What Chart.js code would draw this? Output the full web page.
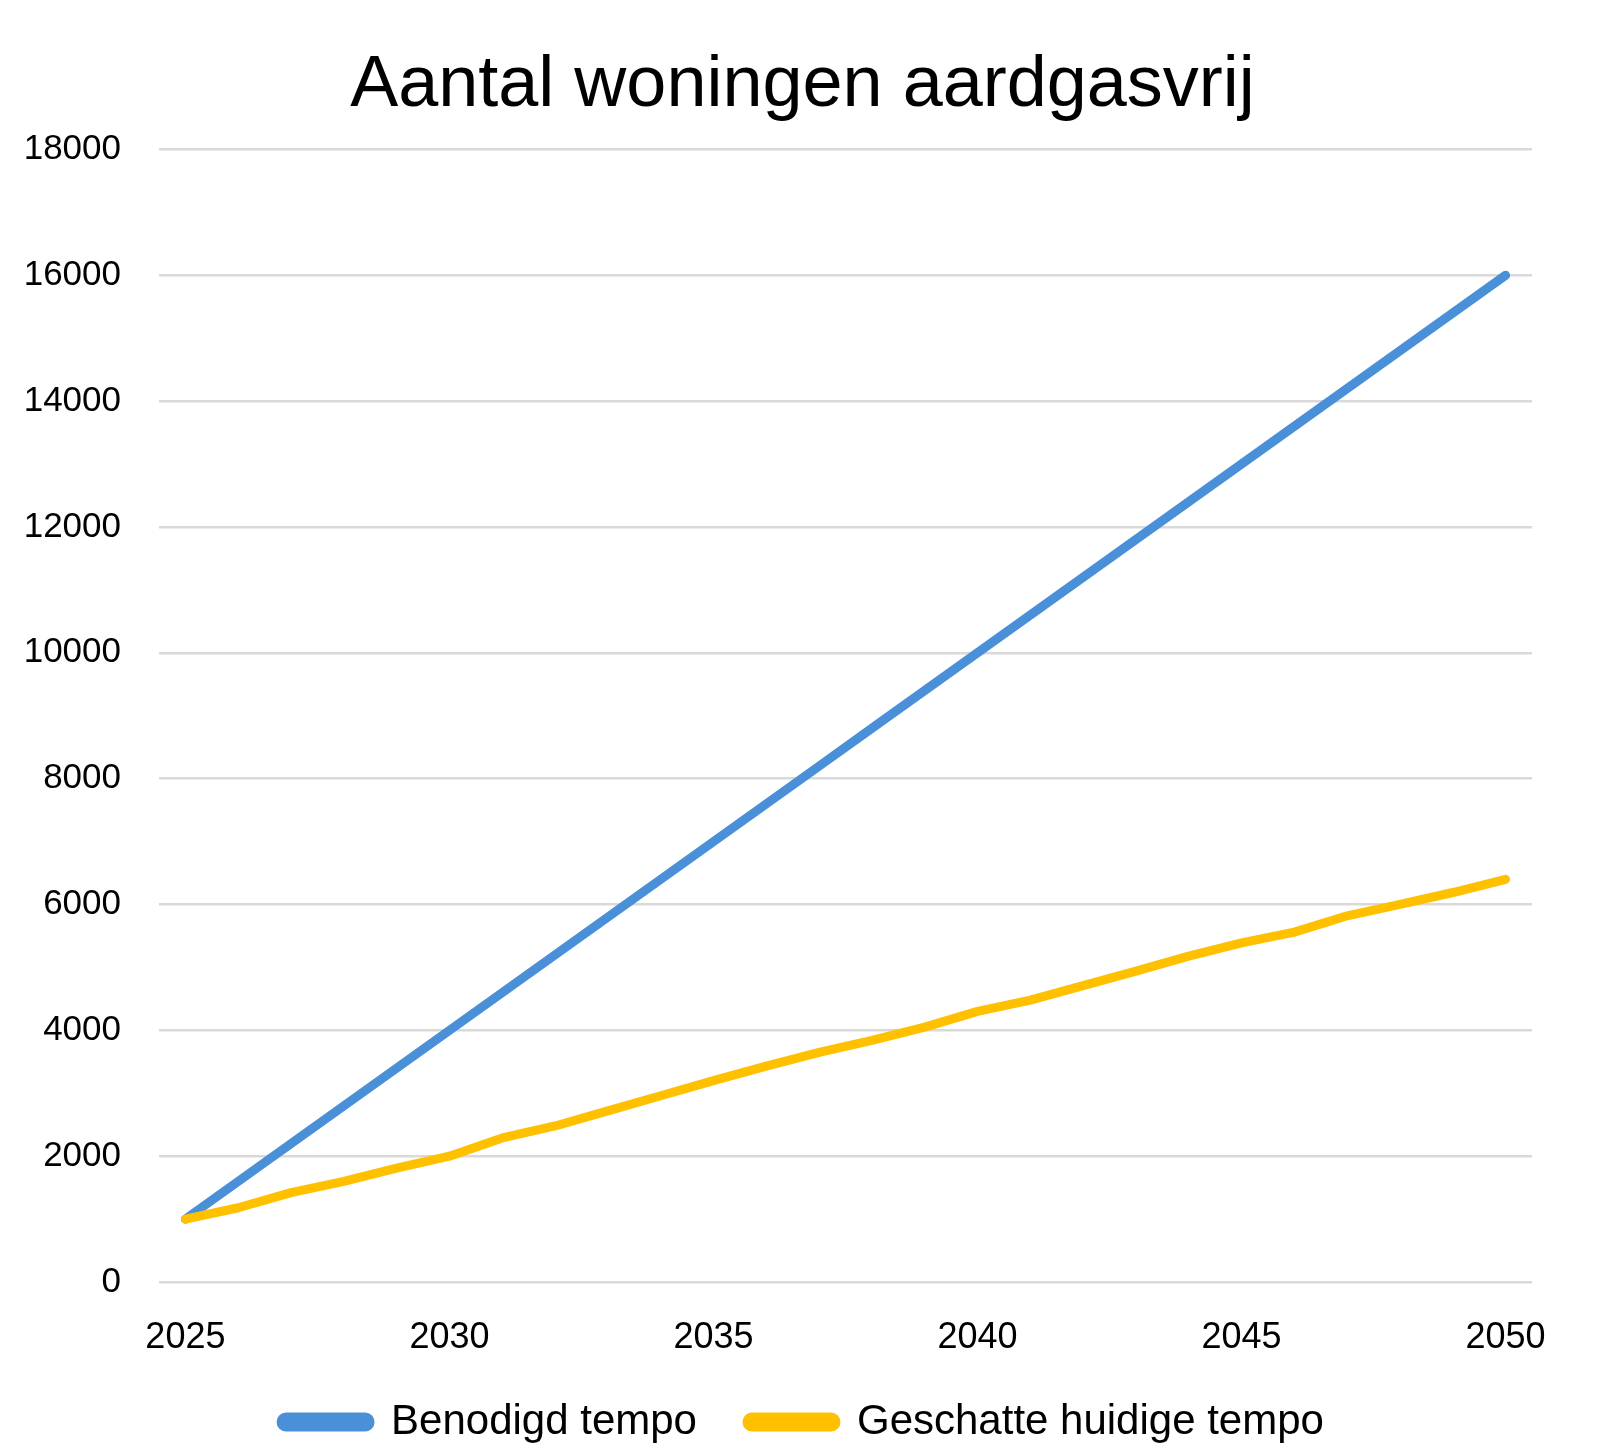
<!DOCTYPE html>
<html lang="nl">
<head>
<meta charset="utf-8">
<title>Aantal woningen aardgasvrij</title>
<script src="https://cdn.jsdelivr.net/npm/chart.js@4.4.1/dist/chart.umd.min.js"></script>
<style>
  html, body { margin: 0; padding: 0; background: #ffffff; }
  #wrap { width: 1605px; height: 1445px; }
</style>
</head>
<body>
<div id="wrap"><canvas id="chart" width="1605" height="1445"></canvas></div>
<script>
/* ---------------- Data ---------------- */

const years = [
  "2025", "2026", "2027", "2028", "2029", "2030", "2031", "2032", "2033",
  "2034", "2035", "2036", "2037", "2038", "2039", "2040", "2041", "2042",
  "2043", "2044", "2045", "2046", "2047", "2048", "2049", "2050"
];

const benodigdTempo = [
  1000, 1600, 2200, 2800, 3400, 4000, 4600, 5200, 5800, 6400, 7000, 7600, 8200,
  8800, 9400, 10000, 10600, 11200, 11800, 12400, 13000, 13600, 14200, 14800, 15400, 16000
];

const huidigTempo = [
  1000, 1180, 1420, 1600, 1810, 2000, 2290, 2480, 2720, 2960, 3200, 3430, 3650,
  3840, 4050, 4300, 4480, 4710, 4940, 5180, 5390, 5560, 5820, 6000, 6190, 6400
];

const yTicks = [0, 2000, 4000, 6000, 8000, 10000, 12000, 14000, 16000, 18000];
const xLabelEvery = 5;

const seriesNames = ["Benodigd tempo", "Geschatte huidige tempo"];
const colors = { blue: "#4A90D9", gold: "#FFC000", grid: "#D9D9D9", text: "#000000" };

/* ---------------- Chart ---------------- */

Chart.defaults.font.family = "'Liberation Sans', Arial, sans-serif";
Chart.defaults.color = colors.text;

function lineSet(label, data, color, order) {
  return {
    label: label,
    data: data,
    borderColor: color,
    backgroundColor: color,
    borderWidth: 9,
    borderCapStyle: "round",
    borderJoinStyle: "round",
    pointRadius: 0,
    pointHoverRadius: 0,
    tension: 0,
    fill: false,
    order: order
  };
}

const ctx = document.getElementById("chart").getContext("2d");

new Chart(ctx, {
  type: "line",
  data: {
    labels: years,
    datasets: [
      lineSet(seriesNames[0], benodigdTempo, colors.blue, 1),
      // gold line sits on top of the blue one where they meet
      lineSet(seriesNames[1], huidigTempo, colors.gold, 0)
    ]
  },
  options: {
    responsive: false,
    animation: false,
    layout: { padding: { left: 0, right: 0, top: 0, bottom: -8 } },
    plugins: {
      title: {
        display: true,
        text: "Aantal woningen aardgasvrij",
        color: colors.text,
        font: { size: 72, weight: "normal" },
        padding: { top: 43, bottom: 20 }
      },
      legend: {
        position: "bottom",
        labels: {
          boxWidth: 89,
          boxHeight: 10,
          useBorderRadius: true,
          borderRadius: 5,
          padding: 50,
          color: colors.text,
          font: { size: 42 },
          sort: (a, b) => a.datasetIndex - b.datasetIndex
        }
      },
      tooltip: { enabled: false }
    },
    scales: {
      x: {
        offset: true,
        grid: { display: false, drawTicks: false },
        border: { display: false },
        ticks: {
          autoSkip: false,
          maxRotation: 0,
          padding: 34,
          font: { size: 36 },
          callback: function (value, index) {
            return index % xLabelEvery === 0 ? years[index] : "";
          }
        },
        afterFit: (axis) => {
          axis.height = 69;
          // keep the plot away from the right edge, title/legend still use full width
          axis.paddingRight = 73;
        }
      },
      y: {
        min: yTicks[0],
        max: yTicks[yTicks.length - 1],
        grid: { color: colors.grid, lineWidth: 2.5, drawTicks: false },
        border: { display: false },
        ticks: {
          stepSize: yTicks[1] - yTicks[0],
          padding: 38,
          font: { size: 35 },
          callback: (value) => String(value)
        },
        afterFit: (axis) => { axis.width = 159; }
      }
    }
  }
});
</script>
</body>
</html>
